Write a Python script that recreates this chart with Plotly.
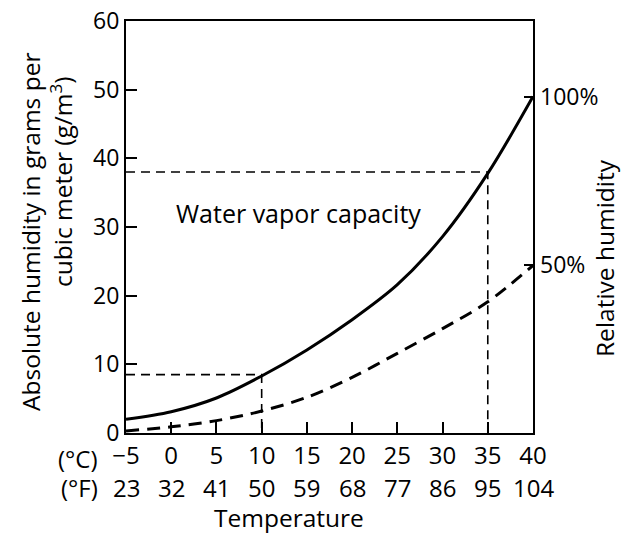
import plotly.graph_objects as go

# ---- data ----
temps_c = [-5, 0, 5, 10, 15, 20, 25, 30, 35, 40]
temps_c_labels = ["\u22125", "0", "5", "10", "15", "20", "25", "30", "35", "40"]
temps_f_labels = ["23", "32", "41", "50", "59", "68", "77", "86", "95", "104"]
capacity = [2.0, 3.1, 5.1, 8.3, 12.1, 16.5, 21.6, 28.6, 37.8, 49.0]   # 100% RH (g/m3)
half_rh = [0.3, 0.9, 1.8, 3.2, 5.2, 8.1, 11.6, 15.2, 19.1, 24.4]      # 50% RH (g/m3)
guide_temps = [10, 35]
guide_values = [8.5, 38.0]
y_ticks = [0, 10, 20, 30, 40, 50, 60]
rh_tick_values = [49.0, 24.5]
rh_tick_labels = ["100%", "50%"]

W, H = 622, 534
PL, PR, PT, PB = 126, 533, 21, 433          # plot box in page pixels
ML, MR, MT, MB = PL, W - PR, PT, H - PB
FONT = "Open Sans"
FS = 24


def px_x(px):
    return (px - ML) / (W - ML - MR)


def px_y(py):
    return (H - MB - py) / (H - MT - MB)


fig = go.Figure()

# dashed guide lines
for t, v in zip(guide_temps, guide_values):
    fig.add_trace(go.Scatter(
        x=[temps_c[0], t, t], y=[v, v, 0], mode="lines",
        line=dict(color="black", width=1.6, dash="9px,6px"),
        showlegend=False, hoverinfo="skip"))

fig.add_trace(go.Scatter(
    x=temps_c, y=capacity, mode="lines",
    line=dict(color="black", width=3, shape="spline", smoothing=0.9),
    showlegend=False))
fig.add_trace(go.Scatter(
    x=temps_c, y=half_rh, mode="lines",
    line=dict(color="black", width=3, shape="spline", smoothing=0.9, dash="13px,8px"),
    showlegend=False))
# invisible trace to activate the right axis
fig.add_trace(go.Scatter(x=[temps_c[-1]], y=[rh_tick_values[0]], yaxis="y2",
                         mode="markers", marker=dict(opacity=0), showlegend=False,
                         hoverinfo="skip"))

tf = dict(size=FS, family=FONT, color="black")
tt = dict(size=FS + 0.5, family=FONT, color="black")


def note(px, py, text, font, angle=0, xanchor="center"):
    return dict(x=px_x(px), y=px_y(py), xref="paper", yref="paper", text=text,
                textangle=angle, xanchor=xanchor, yanchor="middle",
                showarrow=False, font=font)


annotations = []
# Fahrenheit row
for c, f in zip(temps_c, temps_f_labels):
    annotations.append(dict(x=c, xref="x", y=px_y(487), yref="paper", text=f,
                            showarrow=False, xanchor="center", yanchor="middle",
                            font=tf))
annotations += [
    note(100, 458, "(\u00b0C)", tf, xanchor="right"),
    note(100, 487, "(\u00b0F)", tf, xanchor="right"),
    note(289, 517, "Temperature", tt),
    note(30, 232, "Absolute humidity in grams per", tt, angle=-90),
    note(61, 182, "cubic meter (g/m<sup>3</sup>)", tt, angle=-90),
    note(604, 258, "Relative humidity", tt, angle=-90),
    note(298, 213, "Water vapor capacity", dict(size=FS + 1, family=FONT, color="black")),
]

fig.update_layout(
    width=W, height=H,
    margin=dict(l=ML, r=MR, t=MT, b=MB, autoexpand=False),
    paper_bgcolor="white", plot_bgcolor="white",
    font=dict(family=FONT, size=FS, color="black"),
    xaxis=dict(range=[-5, 40], tickvals=temps_c, ticktext=temps_c_labels,
               ticks="inside", ticklen=11, tickwidth=1.6, tickcolor="black",
               showline=True, linecolor="black", linewidth=2, mirror=True,
               showgrid=False, zeroline=False, tickfont=tf,
               automargin=False, ticklabelstandoff=0, ticklabeloverflow="allow"),
    yaxis=dict(range=[0, 60], tickvals=y_ticks,
               ticks="inside", ticklen=11, tickwidth=1.6, tickcolor="black",
               showline=True, linecolor="black", linewidth=2, mirror=True,
               showgrid=False, zeroline=False,
               tickfont=dict(size=FS - 1, family=FONT, color="black"),
               automargin=False, ticklabeloverflow="allow"),
    yaxis2=dict(range=[0, 60], overlaying="y", side="right",
                tickvals=rh_tick_values, ticktext=rh_tick_labels,
                ticks="inside", ticklen=9, tickwidth=1.6, tickcolor="black",
                showline=False, showgrid=False, zeroline=False,
                tickfont=dict(size=FS - 1, family=FONT, color="black"),
                automargin=False, ticklabeloverflow="allow", ticklabelstandoff=6),
    annotations=annotations,
)

# remove the browser's default 8px body margin so the figure fills the window exactly
fig.write_html("out.html",
               config={"displayModeBar": False},
               post_script="document.body.style.margin='0px';"
                           "document.body.style.overflow='hidden';")
